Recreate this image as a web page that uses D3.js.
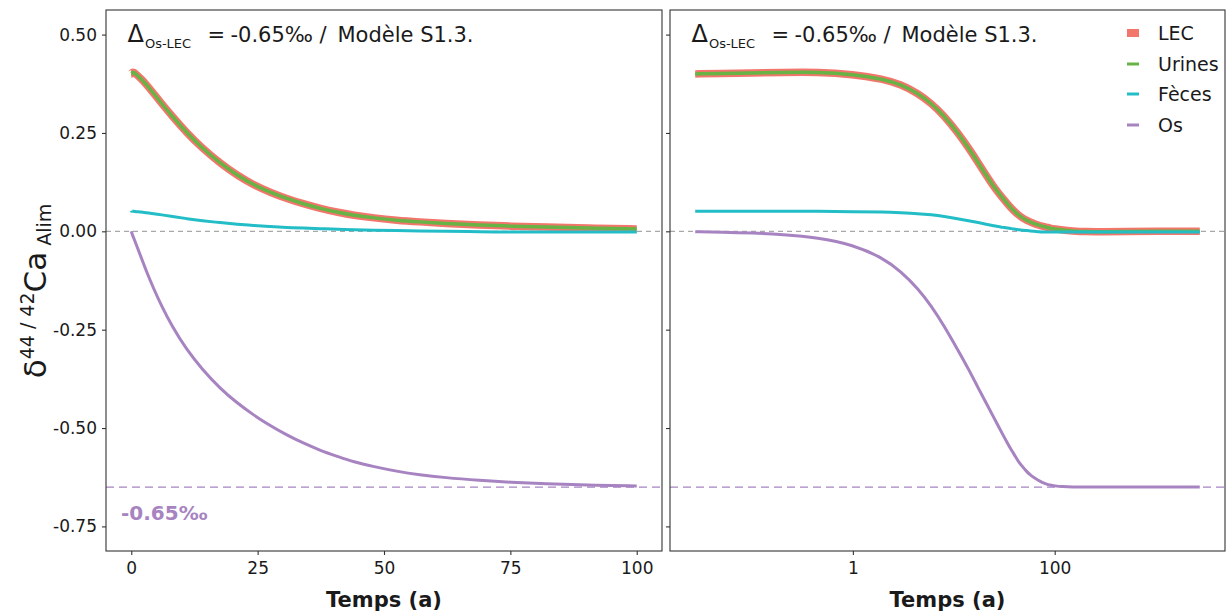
<!DOCTYPE html>
<html><head><meta charset="utf-8">
<script src="https://cdn.jsdelivr.net/npm/d3@7"></script>
<style>
html,body{margin:0;padding:0;background:#fff;}
text{font-family:"DejaVu Sans",sans-serif;fill:#1a1a1a;}
</style></head>
<body>
<svg id="chart" width="1227" height="614"></svg>
<script>
// ---- data ----
const timeYears = [0, 0.0274, 0.05, 0.1, 0.2, 0.45, 1, 2, 3, 4.4, 6, 8, 11, 14, 17.6, 21, 24.2, 27.5, 30.8, 34, 37.4, 41, 43.9, 48, 52.5, 57, 62, 69, 75, 82, 90, 100, 120, 150, 200, 300, 500, 1000, 2740];
const lecValues = [0.400,0.400,0.401,0.402,0.404,0.405, 0.399,0.387,0.373,0.351,0.325,0.294, 0.250,0.212,0.173,0.142,0.118,0.099, 0.083,0.070,0.058,0.048,0.041,0.034, 0.028,0.024,0.020,0.016,0.013,0.011, 0.008,0.006,0.003,0.001,-0.001,-0.001, 0.000,0.000,0.000];
const urinesValues = [0.400,0.400,0.401,0.402,0.404,0.405, 0.399,0.387,0.373,0.351,0.325,0.294, 0.250,0.212,0.173,0.142,0.118,0.099, 0.083,0.070,0.058,0.048,0.041,0.034, 0.028,0.024,0.020,0.016,0.013,0.011, 0.008,0.006,0.003,0.001,-0.001,-0.001, 0.000,0.000,0.000];
const fecesValues = [0.052,0.051,0.051,0.051,0.051,0.051, 0.050,0.049,0.047,0.045,0.042,0.038, 0.032,0.027,0.022,0.018,0.015,0.012, 0.010,0.008,0.007,0.005,0.004,0.003, 0.002,0.001,0.000,-0.001,-0.002,-0.002, -0.002,-0.002,-0.002,-0.002,-0.002,-0.002, -0.002,-0.002,-0.002];
const osValues = [0.000,-0.001,-0.002,-0.004,-0.008,-0.016, -0.034,-0.068,-0.102,-0.145,-0.190,-0.240, -0.302,-0.350,-0.400,-0.437,-0.467,-0.494, -0.518,-0.538,-0.557,-0.573,-0.586,-0.598, -0.610,-0.619,-0.626,-0.633,-0.638,-0.642, -0.645,-0.647,-0.649,-0.650,-0.650,-0.650, -0.650,-0.650,-0.650];
const seriesNames = ["LEC", "Urines", "Fèces", "Os"];
const seriesColors = ["#F2766B", "#67B346", "#22BDC7", "#A784C1"];
const seriesWidths = [7.5, 3.5, 3, 3];
const yTicks = [0.5, 0.25, 0, -0.25, -0.5, -0.75];
const yTickLabels = ["0.50", "0.25", "0.00", "-0.25", "-0.50", "-0.75"];
const xTicksLinear = [0, 25, 50, 75, 100];
const xTicksLog = [1, 100];
const offsetOs = -0.65;
const xTitle = "Temps (a)";

const svg = d3.select("#chart");
const plotTop = 10, plotBottom = 551;
const panels = [
  {x0: 106, x1: 662, type: "lin"},
  {x0: 670, x1: 1225, type: "log"}
];

const y = d3.scaleLinear().domain([-0.8125, 0.5625]).range([plotBottom, plotTop]);
const series = [lecValues, urinesValues, fecesValues, osValues];

panels.forEach((p, pi) => {
  let x, ticks, tickFmt;
  if (p.type === "lin") {
    x = d3.scaleLinear().domain([-5, 105]).range([p.x0, p.x1]);
    ticks = xTicksLinear; tickFmt = d => String(d);
  } else {
    const lo = Math.log10(0.0274), hi = Math.log10(2740), e = (hi - lo) * 0.05;
    x = d3.scaleLog().domain([Math.pow(10, lo - e), Math.pow(10, hi + e)]).range([p.x0, p.x1]);
    ticks = xTicksLog; tickFmt = d => String(d);
  }
  const g = svg.append("g");
  const clipId = "clip" + pi;
  svg.append("clipPath").attr("id", clipId).append("rect")
    .attr("x", p.x0).attr("y", plotTop).attr("width", p.x1 - p.x0).attr("height", plotBottom - plotTop);

  const inner = g.append("g").attr("clip-path", `url(#${clipId})`);
  inner.append("line").attr("x1", p.x0).attr("x2", p.x1).attr("y1", y(0)).attr("y2", y(0))
    .attr("stroke", "#A8A8A8").attr("stroke-width", 1.2).attr("stroke-dasharray", "5,4");
  inner.append("line").attr("x1", p.x0).attr("x2", p.x1).attr("y1", y(offsetOs)).attr("y2", y(offsetOs))
    .attr("stroke", seriesColors[3]).attr("stroke-width", 1.3).attr("stroke-dasharray", "8,5");

  series.forEach((vals, si) => {
    const pts = timeYears.map((t, i) => [t, vals[i]])
      .filter(d => p.type === "lin" ? d[0] <= 100 : d[0] > 0);
    const line = d3.line().x(d => x(d[0])).y(d => y(d[1])).curve(d3.curveBasis);
    inner.append("path").attr("d", line(pts)).attr("fill", "none")
      .attr("stroke", seriesColors[si]).attr("stroke-width", seriesWidths[si])
      .attr("stroke-linejoin", "round").attr("stroke-linecap", "butt");
  });

  g.append("rect").attr("x", p.x0).attr("y", plotTop).attr("width", p.x1 - p.x0).attr("height", plotBottom - plotTop)
    .attr("fill", "none").attr("stroke", "#333").attr("stroke-width", 1.1);

  const ya = d3.axisLeft(y).tickValues(yTicks).tickSize(4).tickPadding(5)
    .tickFormat(pi === 0 ? ((d, i) => yTickLabels[i]) : () => "");
  const yg = g.append("g").attr("transform", `translate(${p.x0},0)`).call(ya);
  yg.select(".domain").remove();
  yg.selectAll("line").attr("stroke", "#333").attr("stroke-width", 1.1);
  yg.selectAll("text").attr("font-size", 17).attr("font-family", "DejaVu Sans").attr("fill", "#1a1a1a");

  const xa = d3.axisBottom(x).tickValues(ticks).tickSize(4).tickPadding(7).tickFormat(tickFmt);
  const xg = g.append("g").attr("transform", `translate(0,${plotBottom})`).call(xa);
  xg.select(".domain").remove();
  xg.selectAll("line").attr("stroke", "#333").attr("stroke-width", 1.1);
  xg.selectAll("text").attr("font-size", 17).attr("font-family", "DejaVu Sans").attr("fill", "#1a1a1a");

  g.append("text").attr("x", (p.x0 + p.x1) / 2).attr("y", 607).attr("text-anchor", "middle")
    .attr("font-size", 21).attr("font-weight", "bold").text(xTitle);

  const tx = p.x0 + 21.5, ty = 42;
  const tt = g.append("text").attr("x", tx).attr("y", ty).attr("font-size", 21);
  tt.append("tspan").attr("font-size", 24).text("Δ");
  tt.append("tspan").attr("font-size", 13).attr("dy", 6).attr("dx", 1).text("Os-LEC");
  tt.append("tspan").attr("dy", -6).attr("x", tx + 80).text("=");
  tt.append("tspan").attr("x", tx + 103).text("-0.65‰");
  tt.append("tspan").attr("x", tx + 192).text("/");
  tt.append("tspan").attr("x", tx + 210).text("Modèle S1.3.");
});

svg.append("text").attr("x", 121).attr("y", 520).attr("font-size", 20).attr("font-weight", "bold")
  .style("fill", seriesColors[3]).text("-0.65‰");

const yt = svg.append("text").attr("transform", "translate(46,291) rotate(-90)")
  .attr("text-anchor", "middle").attr("font-size", 31);
yt.append("tspan").text("δ");
yt.append("tspan").attr("font-size", 19).attr("dy", -12).text("44 / 42");
yt.append("tspan").attr("dy", 12).text("Ca");
yt.append("tspan").attr("font-size", 19).attr("dy", 5).text(" Alim");

const legY = [33, 64, 94, 125];
const leg = svg.append("g");
seriesNames.forEach((n, i) => {
  if (i === 0) {
    leg.append("rect").attr("x", 1127).attr("y", legY[i] - 4).attr("width", 12).attr("height", 8)
      .attr("fill", seriesColors[i]);
  } else {
    leg.append("line").attr("x1", 1127).attr("x2", 1139).attr("y1", legY[i]).attr("y2", legY[i])
      .attr("stroke", seriesColors[i]).attr("stroke-width", 3);
  }
  leg.append("text").attr("x", 1158).attr("y", legY[i]).attr("dy", "0.36em").attr("font-size", 19).text(n);
});
</script>
</body></html>
